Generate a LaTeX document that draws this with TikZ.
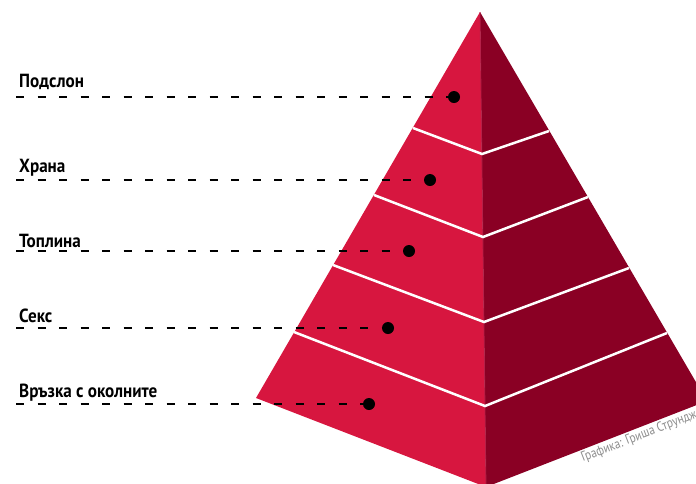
\documentclass[tikz,border=0pt]{standalone}
\usepackage{fontspec}
\newfontfamily\lblfont{PT Sans}[FakeStretch=0.9]
\newfontfamily\creditfont{PT Sans}[FakeStretch=0.85]
\definecolor{faceL}{HTML}{D7163F}
\definecolor{faceR}{HTML}{8A0024}
\definecolor{ridge}{HTML}{B52048}
\definecolor{credit}{HTML}{8C8C8C}
\begin{document}
\begin{tikzpicture}[x=1pt,y=-1pt,
  lbl/.style={anchor=base west,inner sep=0pt,font=\lblfont\bfseries\fontsize{19}{21}\selectfont},
  dot/.style={circle,fill=black,inner sep=0pt,minimum size=12pt},
  leader/.style={draw=black,line width=1.5pt,dash pattern=on 8pt off 13.5pt},
  band/.style={draw=white,line width=2.5pt}]
\useasboundingbox (0,0) rectangle (696,483);
\clip (0,0) rectangle (696,483);
% pyramid faces
\coordinate (A) at (480,12);
\coordinate (L1) at (413,128); \coordinate (C1) at (482,154); \coordinate (R1) at (549,131);
\coordinate (L2) at (374,195); \coordinate (C2) at (483,237); \coordinate (R2) at (588,197);
\coordinate (L3) at (333,265); \coordinate (C3) at (484,322); \coordinate (R3) at (629,268);
\coordinate (L4) at (294,332); \coordinate (C4) at (485,406); \coordinate (R4) at (667,333);
\coordinate (L5) at (256,398); \coordinate (C5) at (486,487); \coordinate (R5) at (707,401);
\fill[faceL] (A) -- (L5) -- (C5) -- cycle;
\fill[faceR] (A) -- (C5) -- (R5) -- cycle;
\draw[ridge,line width=0.8pt] (A) -- (C5);
\foreach \i in {1,2,3,4}{\draw[band] (L\i) -- (C\i) -- (R\i);}
% credit
\node[anchor=base west,inner sep=0pt,rotate=21.3,text=credit,font=\creditfont\fontsize{13.5}{15}\selectfont] (credit) at (583,462) {Графика: Гриша Струнджев};
% labels, leaders, dots
\node[lbl] (t1) at (19,87) {Подслон};
\node[lbl] (t2) at (19,172) {Храна};
\node[lbl] (t3) at (19,247) {Топлина};
\node[lbl] (t4) at (19,322) {Секс};
\node[lbl] (t5) at (19,397) {Връзка с околните};
\node[dot] (d1) at (454,97) {};
\node[dot] (d2) at (430,180) {};
\node[dot] (d3) at (409,251) {};
\node[dot] (d4) at (388,328) {};
\node[dot] (d5) at (369,404) {};
\coordinate (s1) at (16,97);
\coordinate (s2) at (16,180);
\coordinate (s3) at (16,251);
\coordinate (s4) at (16,328);
\coordinate (s5) at (16,404);
\foreach \i in {1,...,5}{\draw[leader] (s\i) -- (d\i.center);}
\end{tikzpicture}
\end{document}
